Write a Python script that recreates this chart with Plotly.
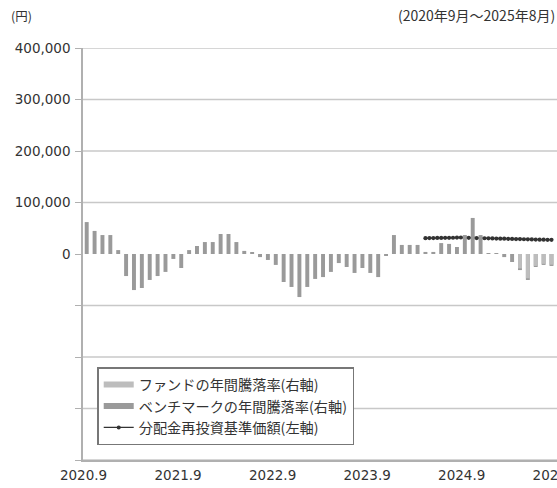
import plotly.graph_objects as go

# ---- data ----
# month index 0 = 2020.9 ... 59 = 2025.8
bench_ret = [15.5, 11.2, 9.2, 9.2, 1.9, -10.7, -17.5, -16.5, -12.6, -10.7,
             -8.7, -2.4, -6.8, 1.9, 3.9, 5.8, 5.8, 9.7, 9.7, 5.8,
             1.5, 0.5, -1.5, -2.9, -5.3, -13.6, -16.0, -20.9, -16.0, -12.1,
             -11.2, -8.7, -4.4, -6.3, -9.2, -6.8, -9.2, -11.2, -0.5, 9.2,
             4.4, 4.4, 4.4, 1.0, 1.0, 5.3, 4.9, 3.4, 9.2, 17.5,
             9.2, 0.2, 0.2, -1.5, -3.9, -7.8, -12.6, -6.3, -5.3, -5.8]
fund_ret = [None] * 55 + [-7.0, -11.8, -5.8, -4.8, -5.2]

nav_t = [43.0 + 0.5 * k for k in range(33)]  # semi-monthly observation times
nav = [30700, 31000, 30900, 31200, 31300, 31500, 31400, 31600, 31800,
       32000, 31700, 31500, 31300, 31000, 30800, 30600, 30500, 30200, 30000,
       29800, 29700, 29400, 29200, 29000, 28900, 28600, 28400, 28300, 28000,
       27900, 27800, 27600, 27500]

x_tick_text = ["2020.9", "2021.9", "2022.9", "2023.9", "2024.9", "2025.9"]
x_tick_pos = [-0.4, 11.6, 23.6, 35.6, 47.6, 59.6]
y_ticks = [-400000, -300000, -200000, -100000, 0, 100000, 200000, 300000, 400000]
y_text = ["", "", "", "", "0", "100,000", "200,000", "300,000", "400,000"]

FONT = "Noto Sans CJK JP"
NUMFONT = "DejaVu Sans"
FUND_C = "#bdbdbd"
BENCH_C = "#9a9a9a"
months = list(range(len(bench_ret)))

fig = go.Figure()
fig.add_trace(go.Bar(x=months, y=bench_ret, marker=dict(color=BENCH_C, line=dict(width=0)),
                     width=0.5, yaxis="y2", showlegend=False))
fig.add_trace(go.Bar(x=months, y=fund_ret, marker=dict(color=FUND_C, line=dict(width=0)),
                     width=0.5, yaxis="y2", showlegend=False))
fig.add_trace(go.Scatter(x=nav_t, y=nav, mode="lines+markers",
                         line=dict(color="#333333", width=1.4),
                         marker=dict(size=4.2, color="#333333"), yaxis="y", showlegend=False))
# legend entries (wide bar swatches like the reference)
fig.add_trace(go.Scatter(x=[None], y=[None], mode="lines", name="ファンドの年間騰落率(右軸)",
                         line=dict(color=FUND_C, width=6)))
fig.add_trace(go.Scatter(x=[None], y=[None], mode="lines", name="ベンチマークの年間騰落率(右軸)",
                         line=dict(color=BENCH_C, width=6)))
fig.add_trace(go.Scatter(x=[None], y=[None], mode="lines+markers", name="分配金再投資基準価額(左軸)",
                         line=dict(color="#333333", width=1.3),
                         marker=dict(size=4, color="#333333")))

shapes = []
for v in y_ticks:
    if v != 0:
        shapes.append(dict(type="line", xref="paper", x0=0, x1=1, yref="y", y0=v, y1=v,
                           line=dict(color="#c8c8c8", width=1.5), layer="below"))

fig.update_layout(
    width=557, height=488,
    margin=dict(l=83, r=0, t=48, b=28, autoexpand=False),
    paper_bgcolor="white", plot_bgcolor="white",
    barmode="overlay",
    font=dict(family=FONT, size=13, color="#333333"),
    shapes=shapes,
    xaxis=dict(range=[-0.47, 59.7], tickvals=x_tick_pos, ticktext=x_tick_text,
               showgrid=False, zeroline=False, showline=True, linecolor="#b0b0b0",
               linewidth=1.5, ticks="", automargin=False, ticklabelstandoff=2,
               ticklabeloverflow="allow",
               tickfont=dict(family=NUMFONT, size=13.5, color="#333333")),
    yaxis=dict(range=[-400000, 400000], tickvals=y_ticks, ticktext=y_text,
               showgrid=False, zeroline=False, showline=True, linecolor="#b0b0b0",
               linewidth=1.5, ticks="outside", ticklen=6, tickcolor="#b0b0b0",
               automargin=False, ticklabelstandoff=2,
               tickfont=dict(family=NUMFONT, size=13.5, color="#333333")),
    yaxis2=dict(range=[-100, 100], overlaying="y", side="right", visible=False),
    legend=dict(x=0.03, y=0.225, xanchor="left", yanchor="top",
                bgcolor="white", bordercolor="#777777", borderwidth=1.5,
                font=dict(size=14.2, color="#333333"), traceorder="normal",
                itemwidth=30),
    annotations=[
        dict(text="(円)", x=0, y=1, xref="paper", yref="paper", xshift=-74, yshift=33,
             showarrow=False, xanchor="left", yanchor="middle", font=dict(size=12.5)),
        dict(text="(2020年9月～2025年8月)", x=1, y=1, xref="paper", yref="paper",
             xshift=0, yshift=33, showarrow=False, xanchor="right", yanchor="middle",
             font=dict(size=14)),
    ],
)
fig.write_html("out.html", config={"displayModeBar": False},
               post_script="document.body.style.margin='0px';")
